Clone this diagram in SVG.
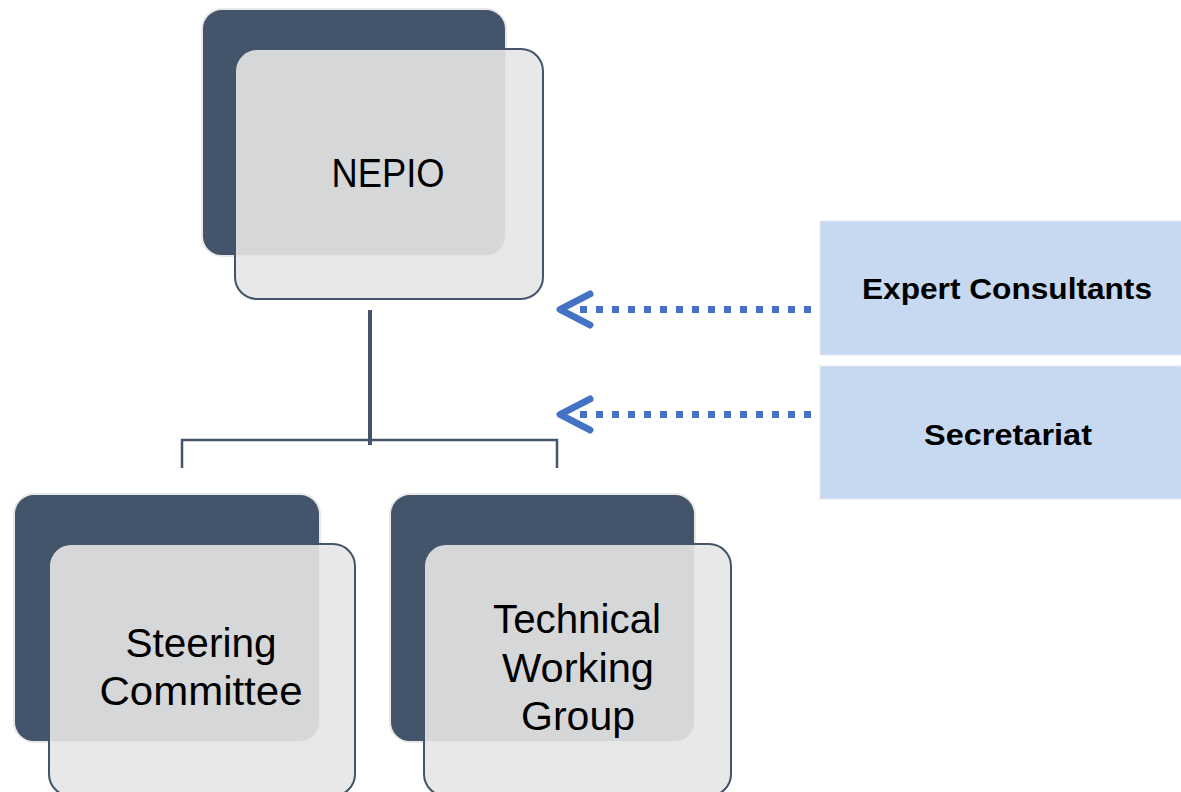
<svg xmlns="http://www.w3.org/2000/svg" width="1181" height="792" viewBox="0 0 1181 792">
<defs>
<style>
.back{fill:#44546a;stroke:#e8e8e8;stroke-width:2}
.front{fill:#e5e5e5;fill-opacity:0.9;stroke:#44546a;stroke-width:2}
.lbl{font-family:"Liberation Sans",Arial,sans-serif;font-size:40px;fill:#000;text-anchor:middle}
.side{fill:#c6d9f0;stroke:#e2eaf5;stroke-width:2;stroke-dasharray:2 2}
.slbl{font-family:"Liberation Sans",Arial,sans-serif;font-size:30px;font-weight:bold;fill:#000;text-anchor:middle}
.tree{fill:none;stroke:#44546a;stroke-width:2.5}
.dots{fill:none;stroke:#4472c4;stroke-width:7;stroke-dasharray:7 9}
.head{fill:none;stroke:#4472c4;stroke-width:7;stroke-linecap:round;stroke-linejoin:round}
</style>
</defs>
<rect width="1181" height="792" fill="#ffffff"/>
<g id="connectors">
<line class="tree" x1="370" y1="310" x2="370" y2="445" style="stroke-width:4"/>
<path class="tree" d="M182,468 V440 H557 V468"/>
<line class="dots" x1="580" y1="309.5" x2="813" y2="309.5"/>
<path class="head" d="M590,294 L560,309.5 L590,325"/>
<line class="dots" x1="580" y1="414.5" x2="813" y2="414.5"/>
<path class="head" d="M590,399 L560,414.5 L590,430"/>
</g>
<g id="nepio">
<rect class="back" x="202" y="9" width="304" height="247" rx="20"/>
<rect class="front" x="235" y="49" width="308" height="250" rx="22"/>
<text class="lbl" x="388" y="187" textLength="113" lengthAdjust="spacingAndGlyphs">NEPIO</text>
</g>
<g id="steering">
<rect class="back" x="14" y="494" width="306" height="248" rx="20"/>
<rect class="front" x="49" y="544" width="306" height="252" rx="22"/>
<text class="lbl" x="201" y="657" textLength="151" lengthAdjust="spacingAndGlyphs">Steering</text>
<text class="lbl" x="201" y="705" textLength="203" lengthAdjust="spacingAndGlyphs">Committee</text>
</g>
<g id="twg">
<rect class="back" x="390" y="494" width="305" height="248" rx="20"/>
<rect class="front" x="424" y="544" width="307" height="252" rx="22"/>
<text class="lbl" x="577" y="633" textLength="168" lengthAdjust="spacingAndGlyphs">Technical</text>
<text class="lbl" x="578" y="682" textLength="152" lengthAdjust="spacingAndGlyphs">Working</text>
<text class="lbl" x="578" y="730" textLength="114" lengthAdjust="spacingAndGlyphs">Group</text>
</g>
<g id="expert">
<rect class="side" x="820" y="221" width="364" height="134"/>
<text class="slbl" x="1007" y="299" textLength="290" lengthAdjust="spacingAndGlyphs">Expert Consultants</text>
</g>
<g id="secretariat">
<rect class="side" x="820" y="366" width="364" height="133"/>
<text class="slbl" x="1008" y="445" textLength="168" lengthAdjust="spacingAndGlyphs">Secretariat</text>
</g>
</svg>
